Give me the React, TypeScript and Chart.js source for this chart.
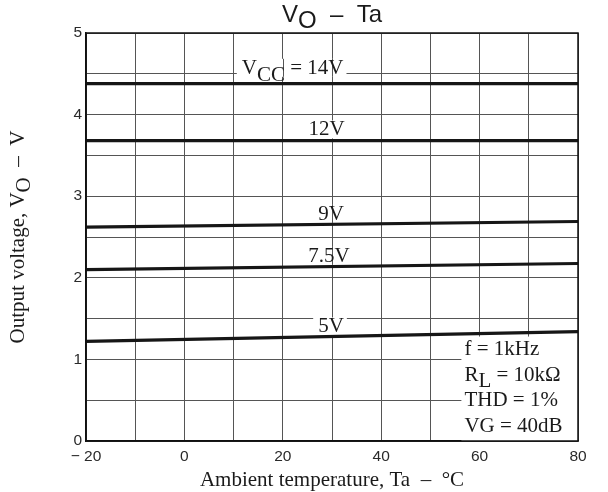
import React, { useEffect, useRef } from "react";
import { Chart, registerables } from "chart.js";

Chart.register(...registerables);

// ---- data ----
const temperatures = [-20, 80];
const vcc14 = [4.38, 4.38];
const vcc12 = [3.68, 3.68];
const vcc9 = [2.62, 2.69];
const vcc75 = [2.1, 2.175];
const vcc5 = [1.22, 1.34];

const xMin = -20;
const xMax = 80;
const yMin = 0;
const yMax = 5;

// curve labels: text segments [text, isSubscript], anchor in data coords (x center, y baseline)
const curveLabelTexts: [string, boolean][][] = [
  [["V", false], ["CC", true], [" = 14V", false]],
  [["12V", false]],
  [["9V", false]],
  [["7.5V", false]],
  [["5V", false]],
];
const curveLabelX = [22, 28.9, 29.8, 29.4, 29.8];
const curveLabelY = [4.5, 3.745, 2.71, 2.195, 1.33];
const curveLabelCross = [true, false, true, true, false];

const conditionLines: [string, boolean][][] = [
  [["f = 1kHz", false]],
  [["R", false], ["L", true], [" = 10kΩ", false]],
  [["THD = 1%", false]],
  [["VG = 40dB", false]],
];

const SERIF = "21px 'Liberation Serif', 'Times New Roman', serif";
const SANS_TITLE = "24px 'Liberation Sans', Arial, sans-serif";
const TEXT = "#1a1a1a";

function segWidth(ctx: CanvasRenderingContext2D, segs: [string, boolean][]) {
  let w = 0;
  for (const [t] of segs) w += ctx.measureText(t).width;
  return w;
}

function drawSegs(
  ctx: CanvasRenderingContext2D,
  segs: [string, boolean][],
  x: number,
  y: number,
  subDy: number
) {
  let cx = x;
  for (const [t, sub] of segs) {
    ctx.fillText(t, cx, y + (sub ? subDy : 0));
    cx += ctx.measureText(t).width;
  }
}

const textPlugin = {
  id: "textPlugin",
  beforeDatasetsDraw(chart: any) {
    const ctx: CanvasRenderingContext2D = chart.ctx;
    const xs = chart.scales.x;
    const ys = chart.scales.y;
    const area = chart.chartArea;
    ctx.save();
    // conditions box (white background)
    const bx0 = xs.getPixelForValue(56.3);
    const by0 = ys.getPixelForValue(1.28);
    ctx.fillStyle = "#ffffff";
    ctx.fillRect(bx0, by0, area.right - bx0, area.bottom - by0);
    ctx.font = SERIF;
    ctx.textBaseline = "alphabetic";
    ctx.textAlign = "left";
    ctx.fillStyle = TEXT;
    const lineYs = [1.05, 0.74, 0.43, 0.11];
    conditionLines.forEach((segs, i) => {
      drawSegs(ctx, segs, bx0 + 3, ys.getPixelForValue(lineYs[i]), 6);
    });

    // curve labels
    curveLabelTexts.forEach((segs, i) => {
      ctx.font = SERIF;
      const w = segWidth(ctx, segs);
      const cx = xs.getPixelForValue(curveLabelX[i]);
      const by = ys.getPixelForValue(curveLabelY[i]);
      const x0 = cx - w / 2;
      const rx0 = x0 - 5;
      const rx1 = x0 + w + 3;
      const ry0 = by - 15;
      const ry1 = by + 3;
      ctx.fillStyle = "#ffffff";
      ctx.fillRect(rx0, ry0, rx1 - rx0, ry1 - ry0);
      if (curveLabelCross[i]) {
        ctx.strokeStyle = "#555555";
        ctx.lineWidth = 1;
        for (let v = xMin; v <= xMax; v += 10) {
          const px = Math.round(xs.getPixelForValue(v)) + 0.5;
          if (px > rx0 && px < rx1) {
            ctx.beginPath();
            ctx.moveTo(px, ry0);
            ctx.lineTo(px, ry1);
            ctx.stroke();
          }
        }
      }
      ctx.fillStyle = TEXT;
      drawSegs(ctx, segs, x0, by, 7);
    });
    ctx.restore();
  },
  afterDraw(chart: any) {
    const ctx: CanvasRenderingContext2D = chart.ctx;
    const area = chart.chartArea;
    ctx.save();
    // frame
    ctx.strokeStyle = "#111";
    ctx.lineWidth = 1.5;
    ctx.strokeRect(area.left, area.top, area.right - area.left, area.bottom - area.top);

    const cxMid = (area.left + area.right) / 2;
    // title
    ctx.font = SANS_TITLE;
    ctx.fillStyle = TEXT;
    ctx.textBaseline = "alphabetic";
    const titleSegs: [string, boolean][] = [["V", false], ["O", true], ["  –  Ta", false]];
    const tw = segWidth(ctx, titleSegs);
    drawSegs(ctx, titleSegs, cxMid - tw / 2, 22, 6);

    // x title
    ctx.font = SERIF;
    const xt: [string, boolean][] = [["Ambient temperature, Ta  –  °C", false]];
    const xw = segWidth(ctx, xt);
    drawSegs(ctx, xt, cxMid - xw / 2, 486, 0);

    // y title
    const yt: [string, boolean][] = [["Output voltage, V", false], ["O", true], ["  –  V", false]];
    const yw = segWidth(ctx, yt);
    ctx.translate(24, (area.top + area.bottom) / 2);
    ctx.rotate(-Math.PI / 2);
    drawSegs(ctx, yt, -yw / 2, 0, 6);
    ctx.restore();
  },
};

export default function App() {
  const ref = useRef<HTMLCanvasElement | null>(null);
  useEffect(() => {
    document.body.style.margin = "0";
    const canvas = ref.current;
    if (!canvas) return;
    const mk = (vals: number[]) => temperatures.map((t, i) => ({ x: t, y: vals[i] }));
    const lineStyle = {
      borderColor: "#161616",
      borderWidth: 3.2,
      pointRadius: 0,
      tension: 0,
      fill: false,
    };
    const tickFont = { family: "'Liberation Sans', Arial, sans-serif", size: 15.5 };
    const chart = new Chart(canvas, {
      type: "line",
      data: {
        datasets: [
          { label: "14V", data: mk(vcc14), ...lineStyle },
          { label: "12V", data: mk(vcc12), ...lineStyle },
          { label: "9V", data: mk(vcc9), ...lineStyle },
          { label: "7.5V", data: mk(vcc75), ...lineStyle },
          { label: "5V", data: mk(vcc5), ...lineStyle },
        ],
      },
      options: {
        animation: false,
        responsive: false,
        maintainAspectRatio: false,
        layout: { padding: { top: 33, right: 30, left: 0, bottom: 0 } },
        plugins: {
          legend: { display: false },
          title: { display: false },
          tooltip: { enabled: false },
        },
        scales: {
          x: {
            type: "linear",
            min: xMin,
            max: xMax,
            afterFit: (s: any) => {
              s.height = 51;
            },
            grid: { color: "#555555", lineWidth: 1, drawTicks: false },
            border: { display: true, color: "#111", width: 1.5 },
            ticks: {
              stepSize: 10,
              autoSkip: false,
              maxRotation: 0,
              padding: 6,
              color: "#2a2a2a",
              font: tickFont,
              callback: (v: any) => {
                const n = Number(v);
                if (n % 20 !== 0) return "";
                return n < 0 ? "− " + Math.abs(n) : String(n);
              },
            },
          },
          y: {
            type: "linear",
            min: yMin,
            max: yMax,
            afterFit: (s: any) => {
              s.width = 86;
            },
            grid: { color: "#555555", lineWidth: 1, drawTicks: false },
            border: { display: true, color: "#111", width: 1.5 },
            ticks: {
              stepSize: 0.5,
              autoSkip: false,
              padding: 4,
              color: "#2a2a2a",
              font: tickFont,
              callback: (v: any) => {
                const n = Number(v);
                return Number.isInteger(n) ? String(n) : "";
              },
            },
          },
        },
      },
      plugins: [textPlugin],
    } as any);
    return () => chart.destroy();
  }, []);
  return (
    <div style={{ width: 608, height: 492 }}>
      <canvas ref={ref} width={608} height={492} />
    </div>
  );
}
